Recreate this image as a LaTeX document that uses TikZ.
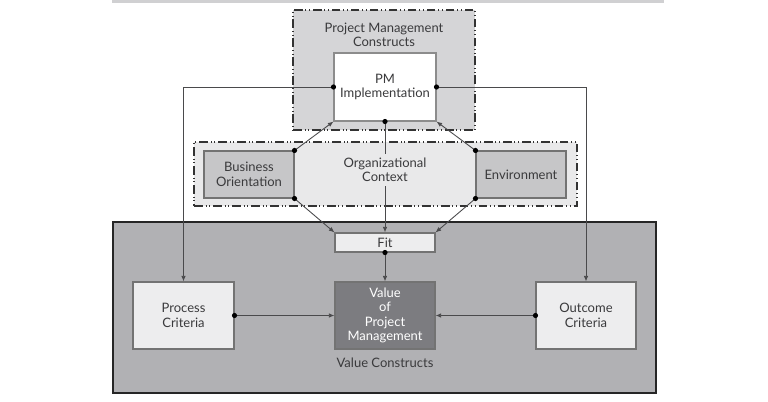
\documentclass[tikz,border=0pt]{standalone}
\usepackage{fontspec}
\setmainfont{Lato}
\usetikzlibrary{arrows.meta}
\definecolor{bandgray}{RGB}{208,208,210}
\definecolor{pmgray}{RGB}{213,213,215}
\definecolor{orggray}{RGB}{233,233,234}
\definecolor{sidegray}{RGB}{198,198,200}
\definecolor{vcgray}{RGB}{177,177,180}
\definecolor{lightbox}{RGB}{237,237,238}
\definecolor{darkbox}{RGB}{124,124,128}
\definecolor{linegray}{RGB}{74,74,76}
\definecolor{txtgray}{RGB}{58,58,60}
\begin{document}
\begin{tikzpicture}[x=0.02cm, y=-0.02cm,
  every node/.style={font=\fontsize{7.4}{8.2}\selectfont, align=center, text=txtgray, inner sep=0pt},
  dashdot/.style={draw=black!80, line width=0.8pt,
    dash pattern=on 5pt off 1.6pt on 0.5pt off 1.6pt on 0.5pt off 1.6pt},
  outerbox/.style={rectangle, dashdot, fill=pmgray},
  plainbox/.style={rectangle, draw=black!55, line width=0.6pt, fill=lightbox},
  conn/.style={draw=linegray, line width=0.5pt},
  arr/.style={conn, -{Latex[length=3.2pt, width=2.6pt]}},
  dot/.style={fill=black}
]
\useasboundingbox (0,0) rectangle (768,402);
\fill[bandgray] (112,0) rectangle (664,3);
% Konstrukte
\node[outerbox, minimum width=3.64cm, minimum height=2.4cm] (pmc) at (384,70) {};
\node (pmclabel) at (384,35) {Project Management\\Constructs};
\node[plainbox, fill=white, draw=black!45, minimum width=2.04cm, minimum height=1.36cm] (pmi) at (385,87) {PM\\Implementation};
\node[outerbox, fill=orggray, minimum width=7.66cm, minimum height=1.28cm] (org) at (385.5,174) {};
\node[plainbox, fill=sidegray, minimum width=1.8cm, minimum height=0.94cm] (bo) at (249,174.5) {Business\\Orientation};
\node[plainbox, fill=sidegray, minimum width=1.8cm, minimum height=0.94cm] (env) at (521,174.5) {Environment};
\node[rectangle, draw=black!85, line width=1pt, fill=vcgray, minimum width=10.86cm, minimum height=3.42cm] (vc) at (384.5,307.5) {};
\node[plainbox, minimum width=2cm, minimum height=0.38cm] (fit) at (385,242.5) {Fit};
\node[plainbox, minimum width=2.02cm, minimum height=1.34cm] (pc) at (183.5,315.5) {Process\\Criteria};
\node[plainbox, minimum width=2.0cm, minimum height=1.34cm] (oc) at (586,315.5) {Outcome\\Criteria};
\node[plainbox, fill=darkbox, minimum width=2.0cm, minimum height=1.34cm, text=white] (vpm) at (385,315.5) {Value\\of\\Project\\Management};
\node (vclabel) at (385,363) {Value Constructs};
% Verbindungen
\draw[arr] (pmi.west) -| (pc.north);
\draw[arr] (pmi.east) -| (oc.north);
\draw[arr] (pmi.south) -- (fit.north);
\draw[arr] (bo.north east) -- (pmi.south west);
\draw[arr] (env.north west) -- (pmi.south east);
\draw[arr] (bo.south east) -- (fit.north west);
\draw[arr] (env.south west) -- (fit.north east);
\draw[arr] (fit.south) -- (vpm.north);
\draw[arr] (pc.east) -- (vpm.west);
\draw[arr] (oc.west) -- (vpm.east);
\node[fill=orggray, inner sep=2pt] (orgtext) at (385,170) {Organizational\\Context};
\foreach \a in {pmi.west, pmi.east, pmi.south, bo.north east, bo.south east,
  env.north west, env.south west, fit.south, pc.east, oc.west}
  \fill[dot] (\a) circle (2.6);
\end{tikzpicture}
\end{document}
